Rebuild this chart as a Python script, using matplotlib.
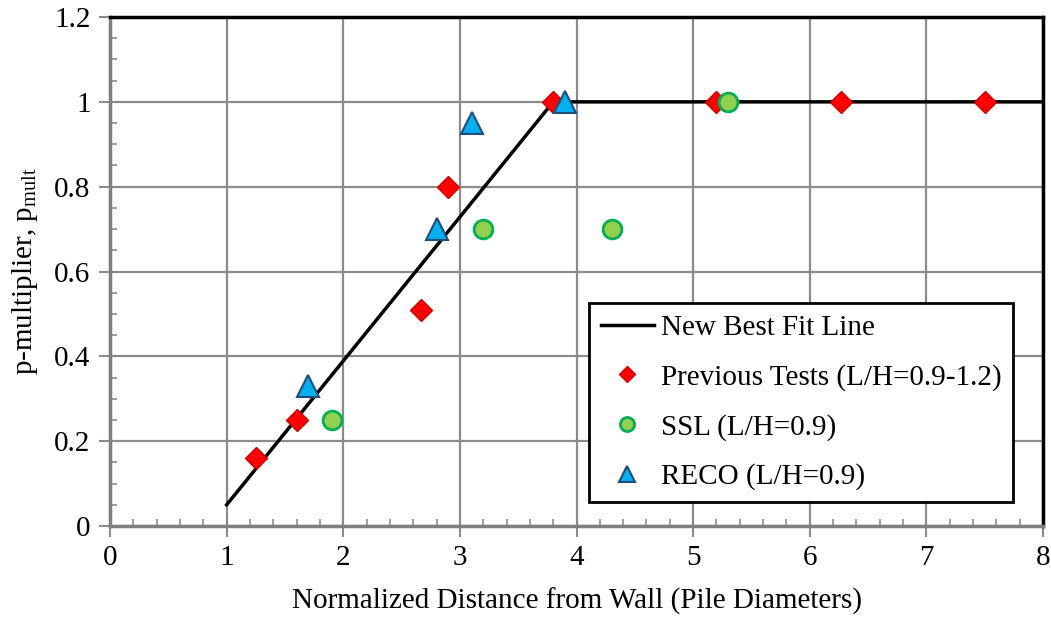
import matplotlib
matplotlib.use("Agg")
import matplotlib.pyplot as plt
from matplotlib.ticker import MultipleLocator

plt.rcParams['font.family'] = 'Liberation Serif'
plt.rcParams['mathtext.fontset'] = 'custom'
plt.rcParams['mathtext.rm'] = 'Liberation Serif'

# best fit line (bilinear)
fit_x = [1.0, 3.8, 8.0]
fit_y = [0.05, 1.0, 1.0]

# previous tests (L/H = 0.9-1.2)
prev_x = [1.25, 1.6, 2.67, 2.9, 3.8, 5.2, 6.27, 7.5]
prev_y = [0.16, 0.25, 0.51, 0.80, 1.0, 1.0, 1.0, 1.0]

# SSL tests
ssl_x = [1.9, 3.2, 4.3, 5.3]
ssl_y = [0.25, 0.70, 0.70, 1.0]

# RECO tests
reco_x = [1.7, 2.8, 3.1, 3.9]
reco_y = [0.33, 0.70, 0.95, 1.0]

FS = 21

fig = plt.figure(figsize=(10.51, 6.17), dpi=100)
ax = fig.add_axes([0.1047, 0.1475, 0.8877, 0.8249])

ax.plot(fit_x, fit_y, color='black', lw=2.5, label='New Best Fit Line', zorder=3)
ax.plot(prev_x, prev_y, 'D', ms=11.5, mfc='#FF0000', mec='#D00000', mew=1,
        ls='none', label='Previous Tests (L/H=0.9-1.2)', zorder=4)
ax.plot(ssl_x, ssl_y, 'o', ms=13.5, mfc='#92D050', mec='#00B050', mew=2,
        ls='none', label='SSL (L/H=0.9)', zorder=5)
ax.plot(reco_x, reco_y, '^', ms=16, mfc='#00B0F0', mec='#1F4E79', mew=1.5,
        ls='none', label='RECO (L/H=0.9)', zorder=5)

ax.set_xlim(0, 8)
ax.set_ylim(0, 1.2)
ax.xaxis.set_major_locator(MultipleLocator(1))
ax.xaxis.set_minor_locator(MultipleLocator(0.2))
ax.yaxis.set_minor_locator(MultipleLocator(0.05))
ax.set_yticks([0, 0.2, 0.4, 0.6, 0.8, 1.0, 1.2])
ax.set_yticklabels(['0', '0.2', '0.4', '0.6', '0.8', '1', '1.2'])

ax.grid(True, which='major', color='#8c8c8c', lw=1.6, zorder=0)
ax.set_axisbelow(True)

ax.tick_params(which='major', direction='out', length=8, width=1.5, color='#8c8c8c',
               labelsize=FS, pad=6)
ax.tick_params(which='minor', direction='in', length=5, width=1.2, color='#8c8c8c')

for side in ('left', 'bottom'):
    ax.spines[side].set_color('#7f7f7f')
    ax.spines[side].set_linewidth(2.5)
for side in ('top', 'right'):
    ax.spines[side].set_color('black')
    ax.spines[side].set_linewidth(2.5)

ax.set_xlabel('Normalized Distance from Wall (Pile Diameters)', fontsize=FS, labelpad=12)
ax.set_ylabel('p-multiplier, p$_{\\mathrm{mult}}$', fontsize=FS, labelpad=10)

leg = ax.legend(loc='lower right', bbox_to_anchor=(0.968, 0.047), fontsize=FS,
                frameon=True, fancybox=False, framealpha=1, edgecolor='black',
                handlelength=1.8, handletextpad=0.25, labelspacing=0.78,
                borderpad=0.4, borderaxespad=0, numpoints=1, markerscale=0.75)
leg.get_frame().set_linewidth(2)

fig.savefig('out.png', dpi=100)
